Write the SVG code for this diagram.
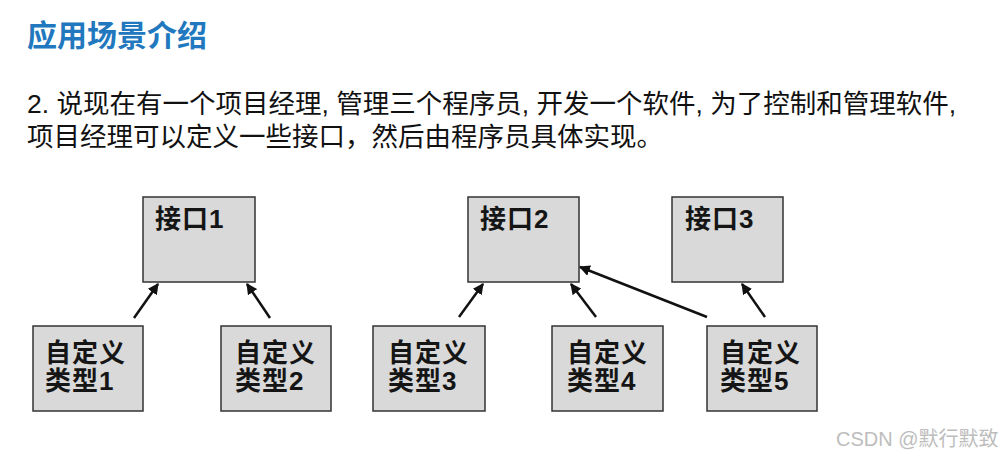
<svg xmlns="http://www.w3.org/2000/svg" width="1007" height="458" viewBox="0 0 1007 458">
<style>
.title{font-family:"Liberation Sans","Noto Sans CJK SC",sans-serif;font-size:30px;font-weight:bold;fill:#2178be}
.para{font-family:"Liberation Sans","Noto Sans CJK SC",sans-serif;font-size:26.5px;fill:#111}
.box{fill:#d9d9d9;stroke:#333;stroke-width:1.5}
.lbl{font-family:"Liberation Sans","Noto Sans CJK SC",sans-serif;font-size:26px;font-weight:bold;fill:#151515;letter-spacing:1px}
.conn line{stroke:#111;stroke-width:2.5;marker-end:url(#ah)}
.wm{font-family:"Liberation Sans","Noto Sans CJK SC",sans-serif;font-size:20px;fill:#bdbdbd}
</style>
<defs>
<marker id="ah" viewBox="0 0 10 10" refX="9" refY="5" markerWidth="4.4" markerHeight="4.4" orient="auto" markerUnits="strokeWidth">
<path d="M0,0 L10,5 L0,10 z" fill="#111"/>
</marker>
</defs>
<rect width="1007" height="458" fill="#fff"/>
<text class="title" x="27" y="46">应用场景介绍</text>
<text class="para" x="27" y="113">2. 说现在有一个项目经理, 管理三个程序员, 开发一个软件, 为了控制和管理软件,</text>
<text class="para" x="27" y="146">项目经理可以定义一些接口，然后由程序员具体实现。</text>

<g id="iface1"><rect class="box" x="143" y="197" width="112" height="85"/><text class="lbl" x="155" y="228">接口1</text></g>
<g id="iface2"><rect class="box" x="468" y="197" width="111" height="85"/><text class="lbl" x="480" y="228">接口2</text></g>
<g id="iface3"><rect class="box" x="672" y="197" width="111" height="85"/><text class="lbl" x="685" y="228">接口3</text></g>

<g id="type1"><rect class="box" x="33" y="326" width="110" height="85"/><text class="lbl" x="45" y="362">自定义</text><text class="lbl" x="45" y="390">类型1</text></g>
<g id="type2"><rect class="box" x="221" y="326" width="110" height="85"/><text class="lbl" x="235" y="362">自定义</text><text class="lbl" x="235" y="390">类型2</text></g>
<g id="type3"><rect class="box" x="373" y="326" width="112" height="85"/><text class="lbl" x="388" y="362">自定义</text><text class="lbl" x="388" y="390">类型3</text></g>
<g id="type4"><rect class="box" x="552" y="326" width="111" height="85"/><text class="lbl" x="567" y="362">自定义</text><text class="lbl" x="567" y="390">类型4</text></g>
<g id="type5"><rect class="box" x="707" y="326" width="110" height="85"/><text class="lbl" x="720" y="362">自定义</text><text class="lbl" x="720" y="390">类型5</text></g>

<g id="connectors" class="conn">
<line x1="134" y1="318" x2="158" y2="284"/>
<line x1="270" y1="318" x2="247" y2="284"/>
<line x1="459" y1="317" x2="483" y2="284"/>
<line x1="596" y1="317" x2="571" y2="284"/>
<line x1="707" y1="317" x2="580" y2="267"/>
<line x1="765" y1="317" x2="742" y2="284"/>
</g>
<text class="wm" x="836" y="446">CSDN @默行默致</text>
</svg>
